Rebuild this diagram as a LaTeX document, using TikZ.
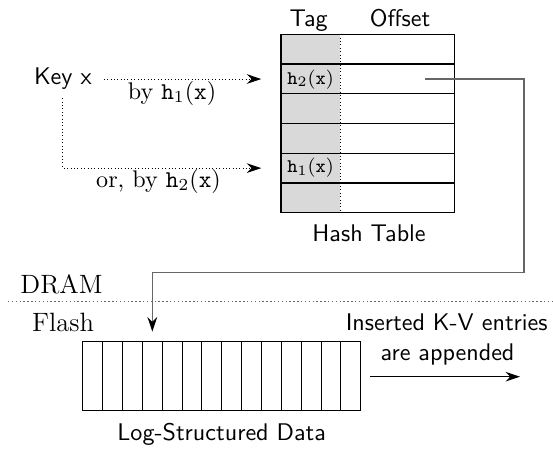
\documentclass[tikz,border=0pt]{standalone}
\usepackage{tikz}
\usetikzlibrary{arrows.meta,calc}

\tikzset{
	probe/.style={densely dotted, -{Stealth[length=6pt,width=4pt]}, shorten >=8pt},
	ptrline/.style={black!60, semithick, -{Stealth[length=6pt,width=4pt,color=black]}},
	tagcell/.style={minimum width=24.6pt, minimum height=12.3pt, inner sep=0pt, font=\footnotesize},
	txt/.style={inner sep=0pt, anchor=base},
}

\begin{document}
\begin{tikzpicture}[x=0.415pt, y=-0.415pt]
			%%%%% START %%%%%
			\useasboundingbox (0,0) rectangle (553,449);
			
			% hash table in DRAM
			\fill[black!15] (281,34.3) rectangle (340.3,212.7);
			\draw[densely dotted] (340.3,34.3) -- (340.3,212.7);
			\foreach \i in {1,...,5}
				\draw[line width=0.6pt] (281,34.3+\i*29.73) -- (454.3,34.3+\i*29.73);
			\draw[line width=0.6pt] (281,34.3) rectangle (454.3,212.7);
			
			\node[txt, font=\sffamily] (tag) at (308.7,26) {Tag};
			\node[txt, font=\sffamily] (offset) at (400,26) {Offset};
			\node[txt, font=\sffamily] (hashtable) at (369,241.7) {Hash Table};
			
			\node[tagcell] (slotB) at (310.65,79.17) {$\mathtt{h}_2\mathtt{(x)}$};
			\node[tagcell] (slotE) at (310.65,168.1) {$\mathtt{h}_1\mathtt{(x)}$};
			\coordinate (ptr) at (425,79.17);
			
			% key lookup
			\node[font=\sffamily] (key) at (62.85,79) {Key x};
			\draw[probe, shorten <=1.5pt] (key.east) -- (key.east -| slotB.west);
			\draw[probe] (key.south) |- (slotE.west);
			\node[txt] (byone) at (172,99.3) {by $\mathtt{h}_1\mathtt{(x)}$};
			\node[txt] (bytwo) at (158.5,187.3) {or, by $\mathtt{h}_2\mathtt{(x)}$};
			
			% DRAM / Flash border
			\draw[densely dotted, black!60, semithick] (8,301.7) -- (553,301.7);
			\node[txt, anchor=base west, font=\fontsize{11}{13}\selectfont] (dram) at (20,293.3) {DRAM};
			\node[txt, anchor=base west, font=\fontsize{11}{13}\selectfont] (flash) at (31.7,331.7) {Flash};
			
			% log on flash
			\draw (82.7,341.7) rectangle (360.7,410.7);
			\foreach \i in {1,...,13}
				\draw (82.7+\i*19.857,341.7) -- (82.7+\i*19.857,410.7);
			\coordinate (login) at (152.3,341.7);
			\coordinate (bend) at (524,272.3);
			\node[txt, font=\sffamily] (logdata) at (221.7,440) {Log-Structured Data};
			
			\draw[ptrline, shorten >=4.2pt] (ptr) -| (bend) -| (login);
			
			% appending
			\node[txt, font=\sffamily] (inserted) at (446.7,330.7) {Inserted K-V entries};
			\node[txt, font=\sffamily] (appended) at (447.5,360) {are appended};
			\coordinate (growfrom) at (370,376.7);
			\coordinate (growto) at (520,376.7);
			\draw[-{Stealth[length=6pt,width=4pt]}] (growfrom) -- (growto);
			%%%%% END %%%%%
\end{tikzpicture}
\end{document}
